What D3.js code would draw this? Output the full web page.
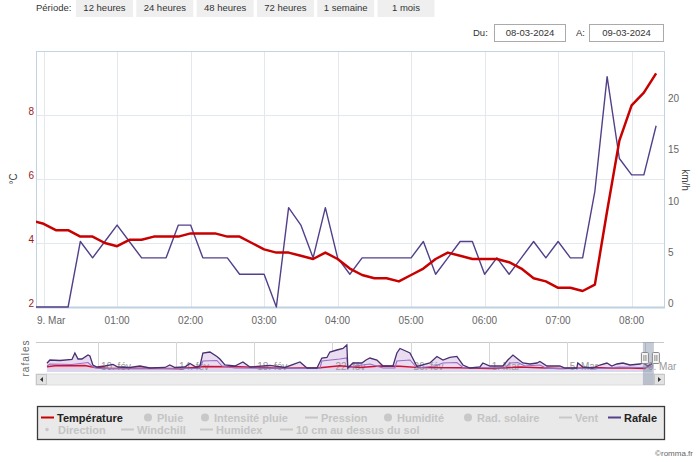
<!DOCTYPE html>
<html><head><meta charset="utf-8">
<script src="https://cdn.jsdelivr.net/npm/d3@7"></script>
<style>body{margin:0;background:#fff;} svg{display:block;font-family:"Liberation Sans",Arial,sans-serif;}</style>
</head><body><svg id="c" width="700" height="462"></svg>
<script>
// ---------- DATA ----------
const periodButtons = ["12 heures","24 heures","48 heures","72 heures","1 semaine","1 mois"];
const dateFrom = "08-03-2024", dateTo = "09-03-2024";
const times = ["23:50","00:00","00:10","00:20","00:30","00:40","00:50","01:00","01:10","01:20","01:30","01:40","01:50",
  "02:00","02:10","02:20","02:30","02:40","02:50","03:00","03:10","03:20","03:30","03:40","03:50","04:00","04:10",
  "04:20","04:30","04:40","04:50","05:00","05:10","05:20","05:30","05:40","05:50","06:00","06:10","06:20","06:30",
  "06:40","06:50","07:00","07:10","07:20","07:30","07:40","07:50","08:00","08:10","08:20"];
const temperature = [4.7,4.6,4.4,4.4,4.2,4.2,4.0,3.9,4.1,4.1,4.2,4.2,4.2,4.3,4.3,4.3,4.2,4.2,4.0,3.8,3.7,3.7,3.6,3.5,3.7,3.5,
  3.2,3.0,2.9,2.9,2.8,3.0,3.2,3.5,3.7,3.6,3.5,3.5,3.5,3.4,3.2,2.9,2.8,2.6,2.6,2.5,2.7,5.0,7.2,8.3,8.7,9.3];
const rafale = [0,0,0,0,6.4,4.8,6.4,8.0,6.4,4.8,4.8,4.8,8.0,8.0,4.8,4.8,4.8,3.2,3.2,3.2,0,9.7,8.0,4.8,9.7,4.8,
  3.2,4.8,4.8,4.8,4.8,4.8,6.4,3.2,4.8,6.4,6.4,3.2,4.8,3.2,4.8,6.4,4.8,6.4,4.8,4.8,11.3,22.5,14.5,12.9,12.9,17.7];
const tempTicks = [2,4,6,8];
const windTicks = [0,5,10,15,20];
const hourTicks = ["00:00","01:00","02:00","03:00","04:00","05:00","06:00","07:00","08:00"];
const hourLabels = ["9. Mar","01:00","02:00","03:00","04:00","05:00","06:00","07:00","08:00"];

// navigator (day-of-February numbering: 30 = 1 March)
const navGustDays = [7.39,7.54,8.06,8.67,8.82,8.98,9.18,9.49,9.59,9.74,9.95,10.36,10.77,11.02,11.64,12.15,12.66,13.43,13.68,13.94,
  14.45,14.71,15.02,15.22,15.37,15.73,16.09,16.24,16.50,17.01,17.42,17.78,18.80,19.57,20.34,20.70,21.21,21.46,21.72,21.87,
  22.23,22.54,22.74,22.79,23.05,23.51,23.72,23.92,24.28,24.59,25.10,25.30,25.46,25.81,25.97,26.33,26.99,27.35,27.66,28.01,
  28.37,28.68,29.04,29.55,29.70,30.06,30.73,30.98,31.24,31.49,31.75,32.11,32.47,32.62,32.98,33.64,33.90,34.51,34.56,34.82,
  35.33,35.69,36.05,36.30,36.56,36.87,37.23,37.74,37.89,38.15,38.35];
const navGust = [21.8,30,28.8,31.3,47.5,32.5,32.5,42.5,40,17.5,12.5,15,18.8,12.5,11.3,15,10,11.3,17.5,11.3,
  12.5,21.3,12.5,15,47.5,50,38.8,32.5,17.5,15,25,12.5,16.3,11.3,25,10,10,35,36.3,50,
  55,58.8,67.5,10,22.5,22.5,30,35,30,15,15,47.5,58.8,51.3,47.5,13.8,22.5,38.8,30,36.3,
  38.8,17.5,10,12.5,22.5,15,15,30,42.5,32.5,22.5,20,22.5,26.3,15,15,10,10,22.5,12.5,
  10,17.5,22.5,15,20,22.5,17.5,20,22.5,15,20];
const navVentDays = [7.39,7.54,8.67,9.49,9.74,10.10,15.22,15.37,16.09,16.35,17.01,21.36,21.46,22.38,22.74,22.79,23.15,23.92,
  24.59,25.20,25.30,25.97,26.33,27.25,27.66,28.37,28.68,30.83,31.09,31.49,31.85,32.62,32.98,35.69,36.71,37.74,38.35];
const navVent = [15,20,18.8,23.8,12.5,8.8,8.8,27.5,28.8,15,10,8.8,27.5,32.5,35,10,15,20,
  10,10,27.5,30,10,15,22.5,23.8,11.3,10,22.5,23.8,15,17.5,8.8,8.8,12.5,11.3,12.5];
const navTempDays = [7.39,7.80,9.33,9.85,10.61,12.66,14.20,15.48,17.27,19.31,21.36,22.38,23.41,24.43,25.46,26.48,28.53,
  30.06,31.60,33.64,35.69,37.23,37.99,38.35];
const navTemp = [5.3,6.2,6.5,4.5,3.5,3.8,3.2,5.5,5.2,3.8,4.2,6.2,4.5,6.0,5.7,4.4,4.2,3.5,5.0,3.5,4.2,4.0,3.5,8.5];
const navTickDays = [10,14,18,22,26,30,34,38];
const navTickLabels = ["10. fév","14. fév","18. fév","22. fév","26. fév","1. Mar","5. Mar","9. Mar"];

const legendRow1 = [
  {name:"Température", sym:"line", on:true, color:"#c80000"},
  {name:"Pluie", sym:"circle"}, {name:"Intensité pluie", sym:"circle"},
  {name:"Pression", sym:"line"}, {name:"Humidité", sym:"circle"},
  {name:"Rad. solaire", sym:"circle"}, {name:"Vent", sym:"line"},
  {name:"Rafale", sym:"line", on:true, color:"#55408a"}];
const legendRow2 = [
  {name:"Direction", sym:"dot"}, {name:"Windchill", sym:"line"},
  {name:"Humidex", sym:"line"}, {name:"10 cm au dessus du sol", sym:"line"}];

// ---------- HELPERS ----------
const toDate = t => { const [h,m] = t.split(":").map(Number); return h >= 12 ? new Date(2024,2,8,h,m) : new Date(2024,2,9,h,m); };
const dayToDate = d => new Date(2024,1,1 + Math.floor(d - 1), 0, Math.round(((d - 1) % 1) * 1440));

const svg = d3.select("#c");
const L = 36, R = 665, T = 51, B = 307;

// ---------- HEADER ----------
svg.append("text").attr("x",36).attr("y",11).attr("font-size",9.5).attr("fill","#333").text("Période:");
periodButtons.forEach((b,i) => {
  const x = 76 + i*60.3;
  svg.append("rect").attr("x",x).attr("y",0).attr("width",57).attr("height",17).attr("fill","#efefef");
  svg.append("text").attr("x",x+28.5).attr("y",11).attr("text-anchor","middle").attr("font-size",9.5).attr("fill","#333").text(b);
});
svg.append("text").attr("x",473).attr("y",36).attr("font-size",9.5).attr("fill","#333").text("Du:");
svg.append("rect").attr("x",494.5).attr("y",24.5).attr("width",71).attr("height",17).attr("fill","#fff").attr("stroke","#aaa");
svg.append("text").attr("x",530).attr("y",36).attr("text-anchor","middle").attr("font-size",9.5).attr("fill","#333").text(dateFrom);
svg.append("text").attr("x",576).attr("y",36).attr("font-size",9.5).attr("fill","#333").text("A:");
svg.append("rect").attr("x",589.5).attr("y",24.5).attr("width",74).attr("height",17).attr("fill","#fff").attr("stroke","#aaa");
svg.append("text").attr("x",626.5).attr("y",36).attr("text-anchor","middle").attr("font-size",9.5).attr("fill","#333").text(dateTo);

// ---------- MAIN CHART ----------
const x = d3.scaleTime().domain([new Date(2024,2,8,23,53,48), new Date(2024,2,9,8,27,15)]).range([L,R]);
const yT = d3.scaleLinear().domain([2,10]).range([B,T]);
const yW = d3.scaleLinear().domain([0,25]).range([B,T]);

svg.append("defs").append("clipPath").attr("id","clip").append("rect").attr("x",L).attr("y",T-2).attr("width",R-L).attr("height",B-T+4);

const g = svg.append("g");
g.selectAll(".vg").data(hourTicks).join("line")
  .attr("x1",d=>Math.round(x(toDate(d)))+0.5).attr("x2",d=>Math.round(x(toDate(d)))+0.5)
  .attr("y1",T).attr("y2",B).attr("stroke","#e3e8ee").attr("stroke-width",1);
g.selectAll(".hg").data(tempTicks.slice(1)).join("line")
  .attr("x1",L).attr("x2",R).attr("y1",d=>Math.round(yT(d))+0.5).attr("y2",d=>Math.round(yT(d))+0.5)
  .attr("stroke","#e3e8ee");
g.append("rect").attr("x",L+0.5).attr("y",T+0.5).attr("width",R-L-1).attr("height",B-T).attr("fill","none").attr("stroke","#c4d3e2");
g.append("line").attr("x1",L).attr("x2",R).attr("y1",B+0.5).attr("y2",B+0.5).attr("stroke","#c0d0e0").attr("stroke-width",2);

g.selectAll(".yl").data(tempTicks).join("text").attr("x",34).attr("y",d=>yT(d)).attr("text-anchor","end")
  .attr("font-size",10).attr("fill","#9b1c1c").text(d=>d);
g.selectAll(".yr").data(windTicks).join("text").attr("x",668).attr("y",d=>yW(d)).attr("text-anchor","start")
  .attr("font-size",10).attr("fill","#666").text(d=>d);
g.selectAll(".xl").data(hourTicks).join("text")
  .attr("x",(d,i)=> i===0 ? 37 : x(toDate(d))).attr("y",324)
  .attr("text-anchor",(d,i)=> i===0 ? "start" : "middle").attr("font-size",10).attr("fill","#666")
  .text((d,i)=>hourLabels[i]);
g.append("text").attr("transform","translate(17,179) rotate(-90)").attr("text-anchor","middle").attr("font-size",10).attr("fill","#444").text("°C");
g.append("text").attr("transform","translate(682,180) rotate(90)").attr("text-anchor","middle").attr("font-size",10).attr("fill","#444").text("km/h");

const series = times.map((t,i)=>({d:toDate(t), t:temperature[i], w:rafale[i]}));
const pg = g.append("g").attr("clip-path","url(#clip)");
pg.append("path").datum(series).attr("fill","none").attr("stroke","#52408a").attr("stroke-width",1.4)
  .attr("stroke-linejoin","round").attr("d", d3.line().x(d=>x(d.d)).y(d=>yW(d.w)));
pg.append("path").datum(series).attr("fill","none").attr("stroke","#c80000").attr("stroke-width",2.5)
  .attr("stroke-linejoin","round").attr("d", d3.line().x(d=>x(d.d)).y(d=>yT(d.t)));

// ---------- NAVIGATOR ----------
const NT = 342, NB = 372;
const xn = d3.scaleTime().domain([new Date(2024,1,6,19,55), new Date(2024,2,9,23,20)]).range([L,664]);
const ynW = d3.scaleLinear().domain([0,75]).range([NB,NT]);
const ynT = d3.scaleLinear().domain([0,30]).range([NB,NT]);
const ng = svg.append("g");
ng.append("line").attr("x1",L).attr("x2",664).attr("y1",NT+0.5).attr("y2",NT+0.5).attr("stroke","#c8c8c8");
ng.selectAll(".ngl").data(navTickDays).join("line")
  .attr("x1",d=>Math.round(xn(dayToDate(d)))+0.5).attr("x2",d=>Math.round(xn(dayToDate(d)))+0.5)
  .attr("y1",NT).attr("y2",NB).attr("stroke","#d6d6d6");
const gustData = navGustDays.map((d,i)=>({d:dayToDate(d), v:navGust[i]}));
const ventData = navVentDays.map((d,i)=>({d:dayToDate(d), v:navVent[i]}));
const tempData = navTempDays.map((d,i)=>({d:dayToDate(d), v:navTemp[i]}));
ng.append("path").datum(gustData).attr("fill","#eadcf1").attr("d", d3.area().x(d=>xn(d.d)).y0(NB).y1(d=>ynW(d.v)));
ng.append("path").datum(tempData).attr("fill","#f5c4d6").attr("d", d3.area().x(d=>xn(d.d)).y0(NB).y1(d=>ynT(d.v)));
ng.append("rect").attr("x",xn(dayToDate(navGustDays[0]))).attr("y",368.5)
  .attr("width",xn(dayToDate(navGustDays[navGustDays.length-1]))-xn(dayToDate(navGustDays[0]))).attr("height",NB-368.5)
  .attr("fill","#d8d9ef");
ng.selectAll(".nl").data(navTickDays).join("text").attr("x",d=>xn(dayToDate(d))+3).attr("y",370)
  .attr("font-size",10).attr("fill","#999").text((d,i)=>navTickLabels[i]);
ng.append("path").datum(tempData).attr("fill","none").attr("stroke","#c8123c").attr("stroke-width",1.4)
  .attr("d", d3.line().x(d=>xn(d.d)).y(d=>ynT(d.v)));
ng.append("path").datum(ventData).attr("fill","none").attr("stroke","#9a6fc4").attr("stroke-width",1.1)
  .attr("d", d3.line().x(d=>xn(d.d)).y(d=>ynW(d.v)));
ng.append("path").datum(gustData).attr("fill","none").attr("stroke","#46306e").attr("stroke-width",1.3)
  .attr("d", d3.line().x(d=>xn(d.d)).y(d=>ynW(d.v)));
ng.append("text").attr("transform","translate(29,358) rotate(-90)").attr("text-anchor","middle")
  .attr("font-size",10).attr("letter-spacing",1).attr("fill","#666").text("rafales");

const selL = xn(x.domain()[0]), selR = xn(x.domain()[1]);
ng.append("rect").attr("x",L).attr("y",374).attr("width",664-L).attr("height",11).attr("fill","#ececec").attr("stroke","#dddddd");
ng.append("rect").attr("x",selL-2).attr("y",NT).attr("width",selR-selL+4).attr("height",385-NT).attr("fill","#7d8ba3").attr("opacity",0.45);
ng.append("rect").attr("x",L+0.5).attr("y",374.5).attr("width",10).attr("height",10).attr("fill","#e2e2e2").attr("stroke","#c6c6c6");
ng.append("path").attr("d",`M${L+7},377 L${L+4},379.5 L${L+7},382 Z`).attr("fill","#333");
ng.append("rect").attr("x",654.5).attr("y",374.5).attr("width",10).attr("height",10).attr("fill","#e2e2e2").attr("stroke","#c6c6c6");
ng.append("path").attr("d",`M658,377 L661,379.5 L658,382 Z`).attr("fill","#333");
[selL-3.5, selR+0.5].forEach(hx=>{
  ng.append("rect").attr("x",hx).attr("y",352.5).attr("width",7).attr("height",11).attr("rx",1).attr("fill","#f4f4f4").attr("stroke","#888");
  ng.append("line").attr("x1",hx+2.5).attr("x2",hx+2.5).attr("y1",355).attr("y2",361).attr("stroke","#888");
  ng.append("line").attr("x1",hx+4.5).attr("x2",hx+4.5).attr("y1",355).attr("y2",361).attr("stroke","#888");
});

// ---------- LEGEND ----------
const lg = svg.append("g");
lg.append("rect").attr("x",37.5).attr("y",406.5).attr("width",627).attr("height",33).attr("fill","#e9e9e9").attr("stroke","#3a3a3a").attr("stroke-width",1.3);
const row1X = [57,157,214,321,397,477,575,624];
const row2X = [58,137,216,296];
function drawItem(it, tx, y){
  const c = it.on ? it.color : "#c8c8c8";
  if (it.sym === "line") lg.append("line").attr("x1",tx-16).attr("x2",tx-3).attr("y1",y-4).attr("y2",y-4).attr("stroke",c).attr("stroke-width",2);
  else if (it.sym === "circle") lg.append("circle").attr("cx",tx-9).attr("cy",y-4).attr("r",4).attr("fill",c);
  else lg.append("circle").attr("cx",tx-11).attr("cy",y-4).attr("r",1.8).attr("fill",c);
  lg.append("text").attr("x",tx).attr("y",y).attr("font-size",11).attr("font-weight","bold")
    .attr("fill", it.on ? "#222" : "#c4c4c4").text(it.name);
}
legendRow1.forEach((it,i)=>drawItem(it,row1X[i],421.5));
legendRow2.forEach((it,i)=>drawItem(it,row2X[i],433.5));
svg.append("text").attr("x",693).attr("y",456).attr("text-anchor","end").attr("font-size",8).attr("fill","#666").text("©romma.fr");
</script></body></html>
